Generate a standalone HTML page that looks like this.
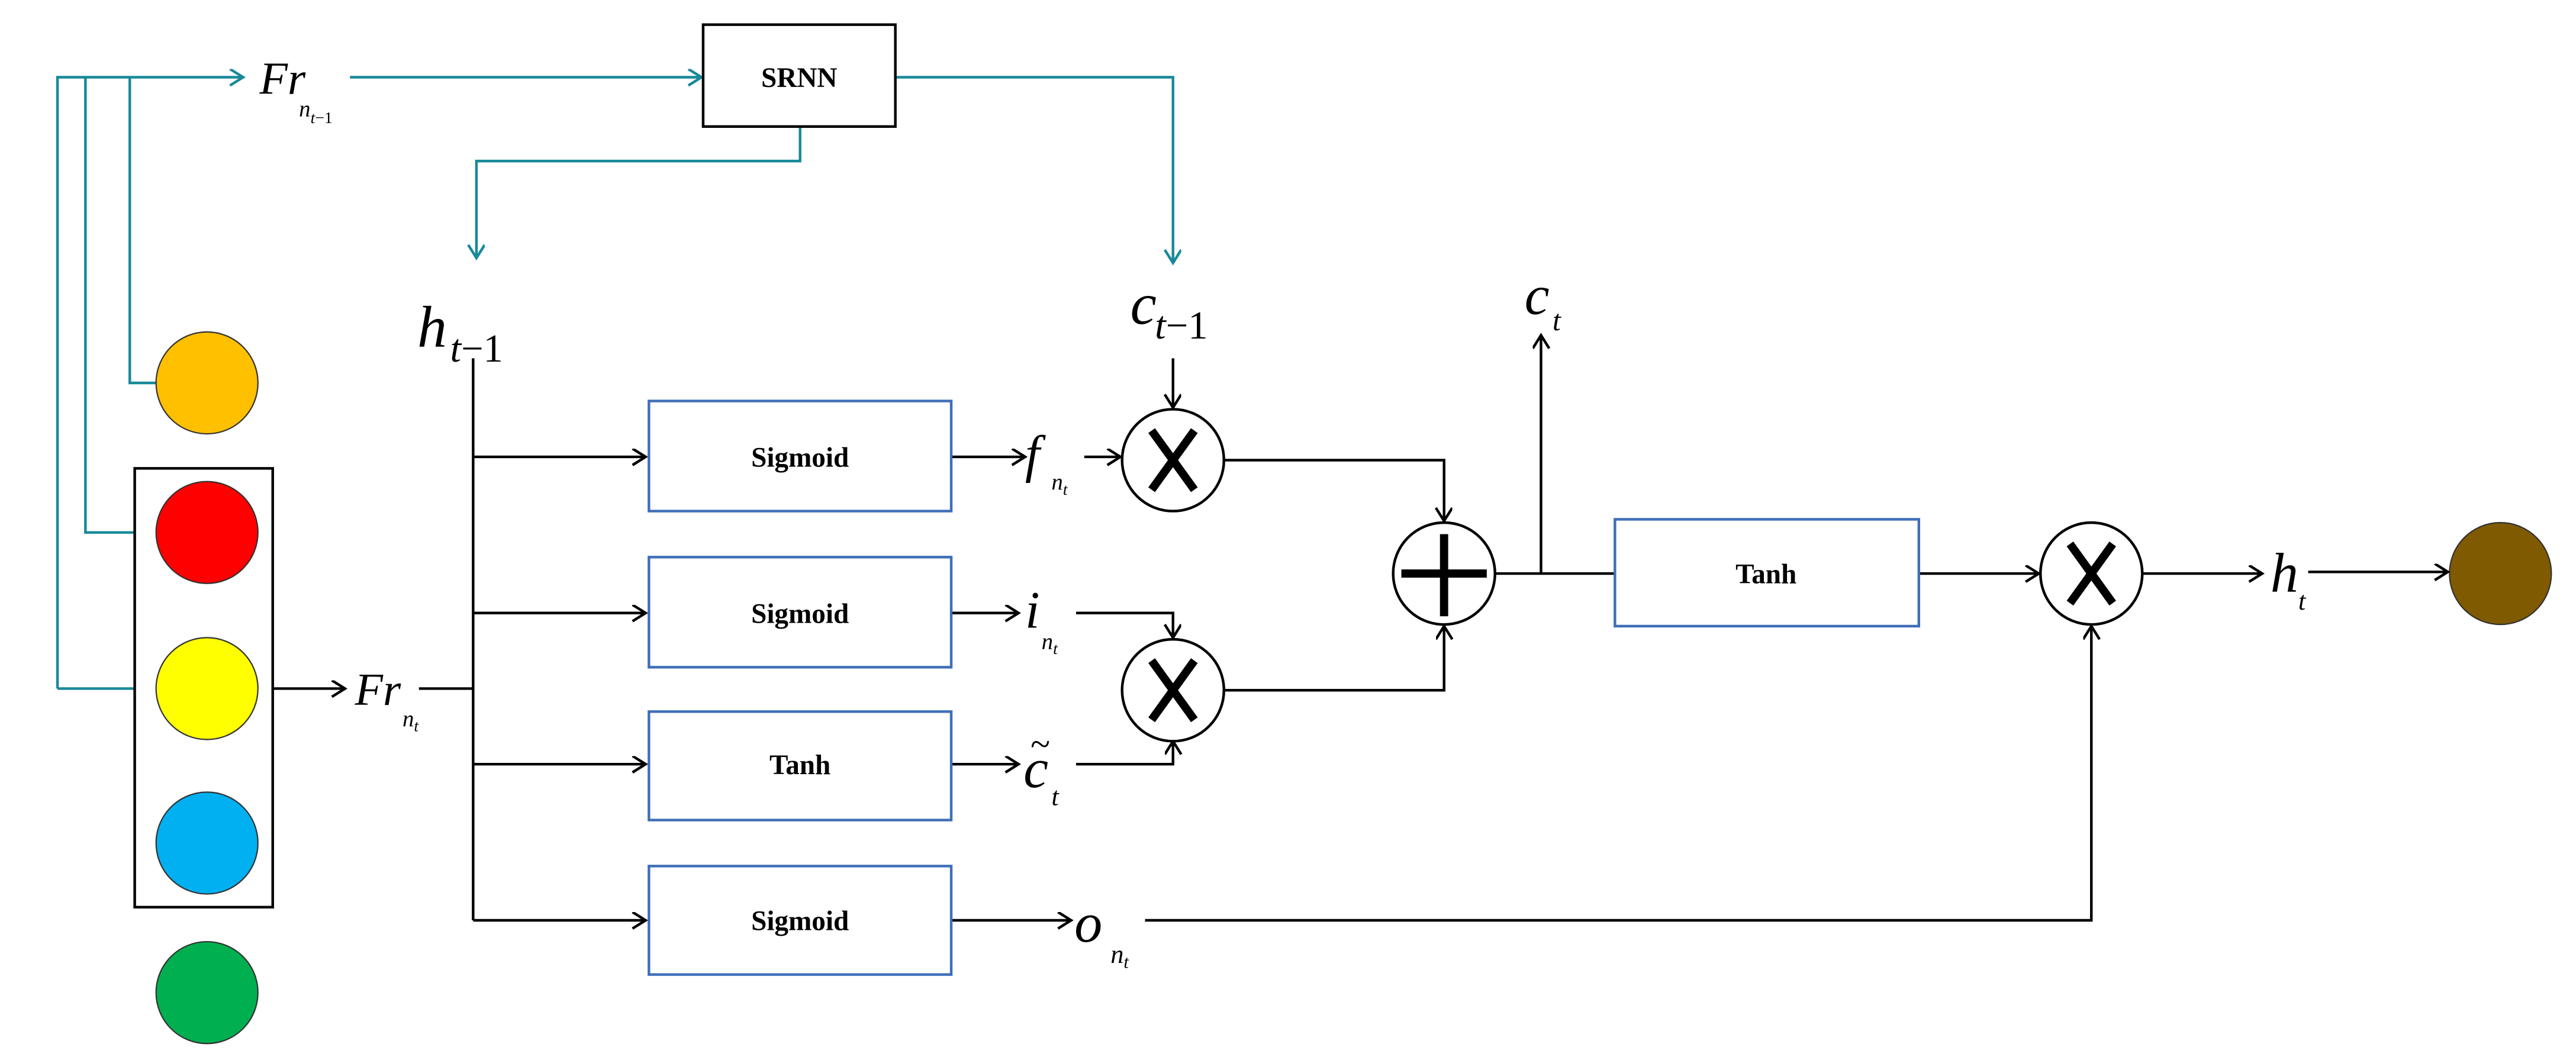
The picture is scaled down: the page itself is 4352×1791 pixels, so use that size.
<!DOCTYPE html>
<html><head><meta charset="utf-8"><style>
html,body{margin:0;padding:0;background:#fff;}
svg{display:block;}
.m{font-family:"Liberation Serif",serif;font-style:italic;fill:#000;}
.b{font-family:"Liberation Serif",serif;font-weight:bold;fill:#000;}
</style></head><body>
<svg width="4352" height="1791" viewBox="0 0 1568 645" preserveAspectRatio="none" xmlns="http://www.w3.org/2000/svg">
<defs>
<marker id="ak" markerWidth="12" markerHeight="12" refX="9" refY="5" orient="auto" markerUnits="userSpaceOnUse"><path d="M1,0 L9,5 L1,10" fill="none" stroke="#000" stroke-width="1.6"/></marker>
<marker id="at" markerWidth="12" markerHeight="12" refX="9" refY="5" orient="auto" markerUnits="userSpaceOnUse"><path d="M1,0 L9,5 L1,10" fill="none" stroke="#17899a" stroke-width="1.6"/></marker>
</defs>
<rect width="1568" height="645" fill="#fff"/>
<g stroke="#17899a" stroke-width="1.6" fill="none">
<path d="M35,419 L35,47 L148,47" marker-end="url(#at)"/>
<path d="M95,419 L35,419"/>
<path d="M52,47 L52,324 L95,324"/>
<path d="M79,47 L79,233 L95,233"/>
<path d="M213,47 L427,47" marker-end="url(#at)"/>
<path d="M545,47 L714,47 L714,160" marker-end="url(#at)"/>
<path d="M487,77 L487,98 L290,98 L290,157" marker-end="url(#at)"/>
</g>
<rect x="428" y="15" width="117" height="62" fill="#fff" stroke="#000" stroke-width="1.6"/>
<text x="486.5" y="53" class="b" font-size="17" text-anchor="middle">SRNN</text>
<text x="158" y="57" class="m" font-size="28">Fr</text>
<text x="182" y="71" class="m" font-size="14">n<tspan font-size="10" dy="4">t</tspan><tspan font-size="10" font-style="normal">−1</tspan></text>
<rect x="82" y="285" width="84" height="267" fill="#fff" stroke="#000" stroke-width="1.6"/>
<g stroke="#333" stroke-width="0.8">
<circle cx="126" cy="233" r="31" fill="#ffc000"/>
<circle cx="126" cy="324" r="31" fill="#ff0000"/>
<circle cx="126" cy="419" r="31" fill="#ffff00"/>
<circle cx="126" cy="513" r="31" fill="#00b0f0"/>
<circle cx="126" cy="604" r="31" fill="#00b050"/>
<circle cx="1522" cy="349" r="31" fill="#7f5a00"/>
</g>
<g stroke="#000" stroke-width="1.6" fill="none">
<path d="M166,419 L210,419" marker-end="url(#ak)"/>
<path d="M255,419 L288,419"/>
<path d="M288,218 L288,560"/>
<path d="M288,278 L393,278" marker-end="url(#ak)"/>
<path d="M288,373 L393,373" marker-end="url(#ak)"/>
<path d="M288,465 L393,465" marker-end="url(#ak)"/>
<path d="M288,560 L393,560" marker-end="url(#ak)"/>
<path d="M579,278 L624,278" marker-end="url(#ak)"/>
<path d="M579,373 L620,373" marker-end="url(#ak)"/>
<path d="M579,465 L620,465" marker-end="url(#ak)"/>
<path d="M579,560 L652,560" marker-end="url(#ak)"/>
<path d="M660,278 L682,278" marker-end="url(#ak)"/>
<path d="M714,218 L714,248" marker-end="url(#ak)"/>
<path d="M655,373 L714,373 L714,388" marker-end="url(#ak)"/>
<path d="M655,465 L714,465 L714,451" marker-end="url(#ak)"/>
<path d="M745,280 L879,280 L879,317" marker-end="url(#ak)"/>
<path d="M745,420 L879,420 L879,381" marker-end="url(#ak)"/>
<path d="M910,349 L983,349"/>
<path d="M938,349 L938,204" marker-end="url(#ak)"/>
<path d="M1168,349 L1241,349" marker-end="url(#ak)"/>
<path d="M697,560 L1273,560 L1273,381" marker-end="url(#ak)"/>
<path d="M1304,349 L1377,349" marker-end="url(#ak)"/>
<path d="M1405,348 L1490,348" marker-end="url(#ak)"/>
</g>
<g fill="#fff" stroke="#3f6fb8" stroke-width="1.6">
<rect x="395" y="244" width="184" height="67"/>
<rect x="395" y="339" width="184" height="67"/>
<rect x="395" y="433" width="184" height="66"/>
<rect x="395" y="527" width="184" height="66"/>
<rect x="983" y="316" width="185" height="65"/>
</g>
<g class="b" font-size="17" text-anchor="middle">
<text x="487" y="284">Sigmoid</text>
<text x="487" y="379">Sigmoid</text>
<text x="487" y="471">Tanh</text>
<text x="487" y="566">Sigmoid</text>
<text x="1075" y="355">Tanh</text>
</g>
<g stroke="#000" stroke-width="1.6" fill="#fff">
<circle cx="714" cy="280" r="31"/>
<circle cx="714" cy="420" r="31"/>
<circle cx="879" cy="349" r="31"/>
<circle cx="1273" cy="349" r="31"/>
</g>
<g stroke="#000" stroke-width="5" fill="none">
<path d="M701,262 L727,298 M727,262 L701,298"/>
<path d="M701,402 L727,438 M727,402 L701,438"/>
<path d="M1260,331 L1286,367 M1286,331 L1260,367"/>
<path d="M853,349 L905,349 M879,325 L879,375"/>
</g>
<text x="254" y="211" class="m" font-size="36">h</text>
<text x="274" y="220" class="m" font-size="24">t<tspan font-style="normal">−1</tspan></text>
<text x="688" y="197" class="m" font-size="36">c</text>
<text x="703" y="206" class="m" font-size="24">t<tspan font-style="normal">−1</tspan></text>
<text x="928" y="191" class="m" font-size="34">c</text>
<text x="945" y="201" class="m" font-size="18">t</text>
<text x="216" y="429" class="m" font-size="28">Fr</text>
<text x="245" y="442" class="m" font-size="14">n<tspan font-size="10" dy="3">t</tspan></text>
<text x="624" y="287" class="m" font-size="32">f</text>
<text x="640" y="298" class="m" font-size="14">n<tspan font-size="10" dy="3">t</tspan></text>
<text x="624" y="382" class="m" font-size="32">i</text>
<text x="634" y="395" class="m" font-size="14">n<tspan font-size="10" dy="3">t</tspan></text>
<text x="623" y="479" class="m" font-size="34">c</text>
<text x="627" y="460" class="m" font-size="22" font-style="normal">~</text>
<text x="640" y="490" class="m" font-size="16">t</text>
<text x="654" y="573" class="m" font-size="34">o</text>
<text x="676" y="586" class="m" font-size="16">n<tspan font-size="11" dy="3">t</tspan></text>
<text x="1382" y="360" class="m" font-size="34">h</text>
<text x="1399" y="371" class="m" font-size="16">t</text>
</svg>
</body></html>
